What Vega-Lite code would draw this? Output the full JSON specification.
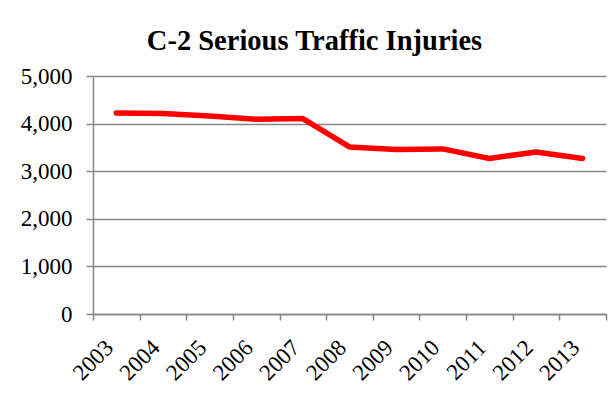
{
  "$schema": "https://vega.github.io/schema/vega-lite/v6.json",
  "width": 513,
  "height": 238,
  "autosize": "none",
  "padding": {"left": 93, "top": 76, "right": 5, "bottom": 88},
  "background": "white",
  "title": {
    "text": "C-2 Serious Traffic Injuries",
    "font": "'Liberation Serif', 'Times New Roman', serif",
    "fontSize": 28.5,
    "fontWeight": "bold",
    "color": "black",
    "anchor": "middle",
    "frame": "group",
    "dx": -35,
    "offset": 10
  },
  "data": {
    "values": [
      {"year": "2003", "injuries": 4224},
      {"year": "2004", "injuries": 4211},
      {"year": "2005", "injuries": 4160},
      {"year": "2006", "injuries": 4092},
      {"year": "2007", "injuries": 4106},
      {"year": "2008", "injuries": 3510},
      {"year": "2009", "injuries": 3456},
      {"year": "2010", "injuries": 3469},
      {"year": "2011", "injuries": 3267},
      {"year": "2012", "injuries": 3405},
      {"year": "2013", "injuries": 3267}
    ]
  },
  "mark": {"type": "line", "color": "#FF0000", "strokeWidth": 5.5, "strokeCap": "round", "strokeJoin": "round"},
  "encoding": {
    "x": {
      "field": "year",
      "type": "ordinal",
      "scale": {"type": "band", "paddingInner": 0, "paddingOuter": 0},
      "axis": {
        "title": null,
        "labelAngle": -45,
        "labelAlign": "right",
        "labelBaseline": "top",
        "labelFont": "'Liberation Serif', 'Times New Roman', serif",
        "labelFontSize": 23,
        "labelColor": "black",
        "tickBand": "extent",
        "tickColor": "#868686",
        "tickSize": 6,
        "domainColor": "#868686",
        "domainWidth": 1.5,
        "tickWidth": 1.5,
        "labelPadding": 16,
        "labelOffset": -15,
        "grid": false
      }
    },
    "y": {
      "field": "injuries",
      "type": "quantitative",
      "scale": {"domain": [0, 5000], "nice": false},
      "axis": {
        "title": null,
        "values": [0, 1000, 2000, 3000, 4000, 5000],
        "format": ",d",
        "labelFont": "'Liberation Serif', 'Times New Roman', serif",
        "labelFontSize": 23,
        "labelColor": "black",
        "tickColor": "#868686",
        "tickSize": 7,
        "tickWidth": 1.5,
        "domainColor": "#868686",
        "domainWidth": 1.5,
        "gridColor": "#868686",
        "gridWidth": 1.5,
        "gridOpacity": 1,
        "labelPadding": 14
      }
    }
  },
  "config": {"view": {"stroke": null}}
}
